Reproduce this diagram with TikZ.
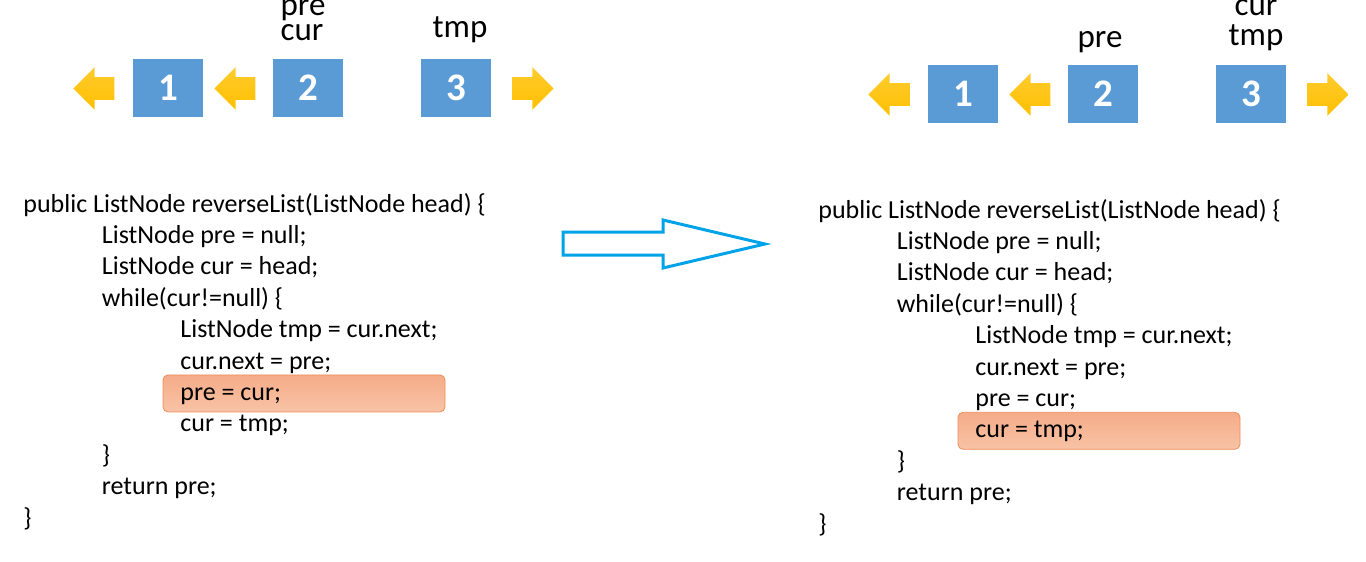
\documentclass[tikz,border=0pt]{standalone}
\usepackage{fontspec}
\setmainfont{Carlito}
\usetikzlibrary{positioning,shapes.arrows}
\definecolor{boxblue}{HTML}{5B9BD5}
\definecolor{ptrgold}{HTML}{FFC000}
\definecolor{ptrgoldlt}{HTML}{FFCB2E}
\definecolor{flowcyan}{HTML}{00A2E8}
\definecolor{hlfill}{HTML}{F5AC88}
\definecolor{hlfilllt}{HTML}{F8C3A6}
\definecolor{hldraw}{HTML}{EE8C5C}

\begin{document}
\begin{tikzpicture}[
  x=0.5pt, y=-0.5pt,
  lnode/.style={rectangle, fill=boxblue, minimum width=35pt, minimum height=29pt, inner sep=0pt,
              text=white, font=\fontsize{19.5}{22}\selectfont\bfseries},
  ptr/.style={single arrow, single arrow head extend=5pt, minimum height=20.5pt,
              inner xsep=0pt, inner ysep=5.5pt, top color=ptrgoldlt, bottom color=ptrgold, draw=none},
  back/.style={ptr, shape border rotate=180},
  var/.style={inner sep=0pt, anchor=base, font=\fontsize{16.5}{18}\selectfont},
  code/.style={inner sep=0pt, anchor=base west, font=\fontsize{13}{15}\selectfont},
  hilite/.style={rectangle, rounded corners=2.5pt, minimum width=141pt, minimum height=18.5pt,
              top color=hlfill, bottom color=hlfilllt, draw=hldraw, line width=0.4pt},
  bigarrow/.style={draw=flowcyan, line width=1.5pt, line join=miter}
]
\useasboundingbox (0,0) rectangle (1366,562);
% before (L) and after (R) one step of the loop
\foreach \p/\dx/\dy/\hl in {L/0/0/7, R/795/6/8}{
  \begin{scope}[shift={(\dx,\dy)}, name prefix=\p-]
  \node[lnode] (n1) at (168,88) {1};
  \node[lnode] (n2) at (308,88) {2};
  \node[lnode] (n3) at (456,88) {3};
  \node[back] (a0) at (99.5,88.5) {};
  \node[back] (a1) at (240.5,88.5) {};
  \node[ptr] (a3) at (527.5,88.5) {};
  \node[hilite] (hl) at (304,{212+31.4*(\hl-1)-7}) {};
  \foreach \ind/\txt [count=\k] in {0/{public ListNode reverseList(ListNode head) \{},
      1/{ListNode pre = null;}, 1/{ListNode cur = head;}, 1/{while(cur!=null) \{},
      2/{ListNode tmp = cur.next;}, 2/{cur.next = pre;}, 2/{pre = cur;}, 2/{cur = tmp;},
      1/\}, 1/{return pre;}, 0/\}}
    \node[code] (c\k) at ({23+78.5*\ind},{212+31.4*(\k-1)}) {\txt};
  \end{scope}
}
% pointer names
\node[var] (pre1) at (303,15) {pre};
\node[var] (cur1) at (302,40) {cur};
\node[var] (tmp1) at (460,38) {tmp};
\node[var] (pre2) at (1100,47) {pre};
\node[var] (cur2) at (1256,15) {cur};
\node[var] (tmp2) at (1256,46) {tmp};
% step arrow
\draw[bigarrow] (563,232) -- (663,232) -- (663,220) -- (765,244) -- (663,268) -- (663,255)
  -- (563,255) -- cycle;
\end{tikzpicture}
\end{document}
